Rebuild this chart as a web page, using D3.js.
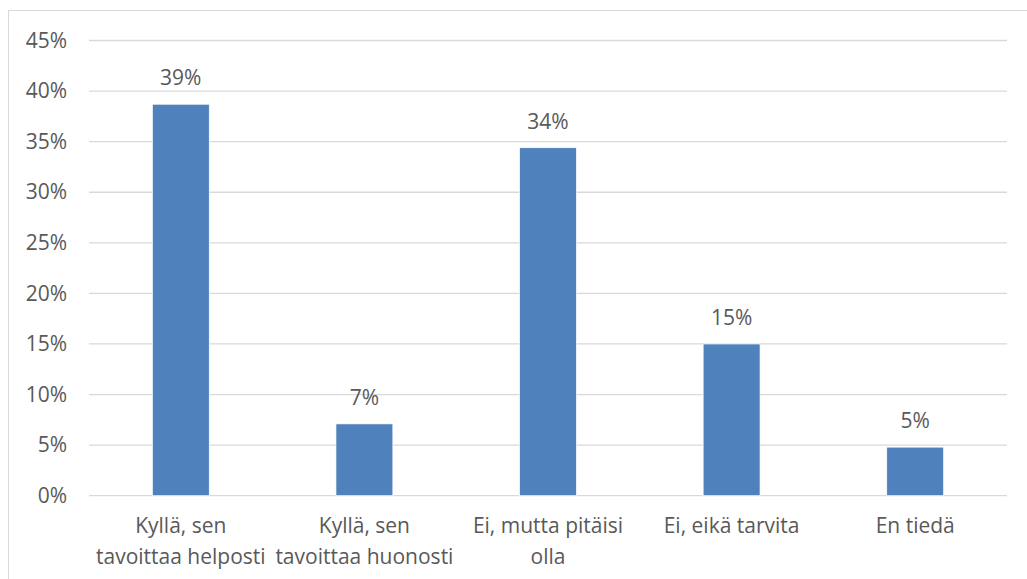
<!DOCTYPE html>
<html>
<head>
<meta charset="utf-8">
<script src="https://cdn.jsdelivr.net/npm/d3@7/dist/d3.min.js"></script>
<style>
  html, body { margin: 0; padding: 0; background: #fff; }
  svg { display: block; }
  text { font-family: "Open Sans", "Noto Sans", sans-serif; fill: #595959; }
</style>
</head>
<body>
<svg id="chart" width="1027" height="579"></svg>
<script>
// Survey answers (share of respondents)
const categories = [
  ["Kyllä, sen", "tavoittaa helposti"],
  ["Kyllä, sen", "tavoittaa huonosti"],
  ["Ei, mutta pitäisi", "olla"],
  ["Ei, eikä tarvita"],
  ["En tiedä"]
];
const values = [0.387, 0.071, 0.344, 0.150, 0.048];
const yTicks = [0, 0.05, 0.10, 0.15, 0.20, 0.25, 0.30, 0.35, 0.40, 0.45];

const svg = d3.select("#chart");
const W = 1027, H = 579;
const plot = { left: 89, right: 1007, top: 40.5, bottom: 495.7 };
const FONT = '"Open Sans", "Noto Sans", sans-serif';
const FS = 21;

// chart frame
svg.append("rect")
  .attr("x", 8.5).attr("y", 10.5)
  .attr("width", W + 10).attr("height", H + 10)
  .attr("fill", "none").attr("stroke", "#d9d9d9").attr("stroke-width", 1);

const x = d3.scaleBand()
  .domain(d3.range(categories.length))
  .range([plot.left, plot.right])
  .paddingInner(0.69).paddingOuter(0.345);

const y = d3.scaleLinear().domain([0, 0.45]).range([plot.bottom, plot.top]);

// gridlines
svg.append("g")
  .selectAll("line")
  .data(yTicks)
  .join("line")
  .attr("x1", plot.left).attr("x2", plot.right)
  .attr("y1", d => y(d)).attr("y2", d => y(d))
  .attr("stroke", "#d9d9d9").attr("stroke-width", 1.3);

// y axis labels
const yAxis = d3.axisLeft(y).tickValues(yTicks).tickFormat(d3.format(".0%")).tickSize(0).tickPadding(22);
const yg = svg.append("g").attr("transform", `translate(${plot.left},0)`).call(yAxis);
yg.select(".domain").remove();
yg.attr("font-size", null).attr("font-family", null);
yg.selectAll("text").attr("font-size", FS).style("fill", "#595959").style("font-family", FONT);

// bars
svg.append("g")
  .selectAll("rect")
  .data(values)
  .join("rect")
  .attr("x", (d, i) => x(i))
  .attr("width", x.bandwidth())
  .attr("y", d => y(d))
  .attr("height", d => y(0) - y(d))
  .attr("fill", "#4f81bd")
  .attr("stroke", "#ffffff").attr("stroke-width", 0.7);

// value labels
svg.append("g")
  .selectAll("text")
  .data(values)
  .join("text")
  .attr("x", (d, i) => x(i) + x.bandwidth() / 2)
  .attr("y", d => y(d) - 19)
  .attr("text-anchor", "middle")
  .attr("font-size", FS)
  .text(d => d3.format(".0%")(d));

// category labels
const cat = svg.append("g")
  .selectAll("text")
  .data(categories)
  .join("text")
  .attr("text-anchor", "middle")
  .attr("font-size", FS);
cat.each(function(lines, i) {
  const t = d3.select(this);
  lines.forEach((s, k) => {
    t.append("tspan")
      .attr("x", x(i) + x.bandwidth() / 2)
      .attr("y", 533 + k * 31)
      .text(s);
  });
});
</script>
</body>
</html>
